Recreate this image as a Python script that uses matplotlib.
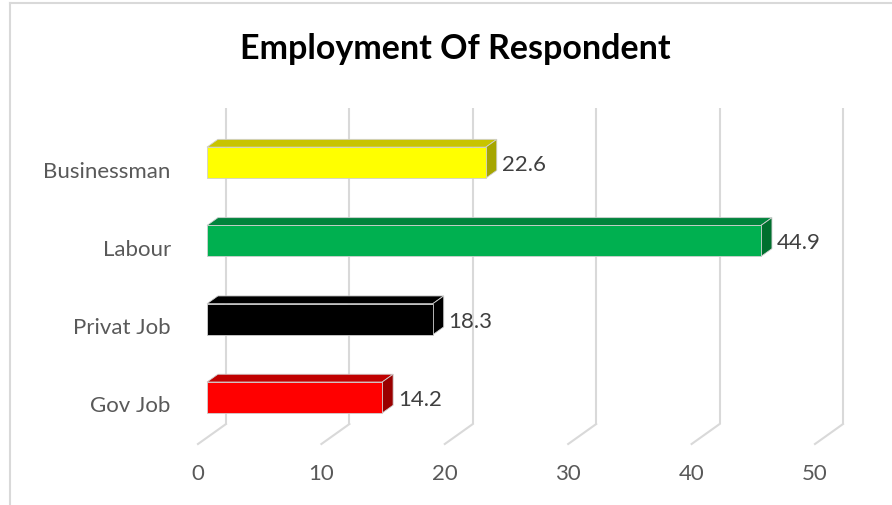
import matplotlib
matplotlib.use('Agg')
import matplotlib.pyplot as plt
from matplotlib.patches import Polygon
from matplotlib.lines import Line2D

# data
categories = ['Gov Job', 'Privat Job', 'Labour', 'Businessman']
values = [14.2, 18.3, 44.9, 22.6]
front_colors = ['#FF0000', '#000000', '#00B050', '#FFFF00']
top_colors = ['#C00000', '#000000', '#00843C', '#C8C400']
side_colors = ['#9A0000', '#000000', '#006F2E', '#A6A600']
ticks = [0, 10, 20, 30, 40, 50]

plt.rcParams['font.family'] = ['Lato', 'DejaVu Sans']

fig = plt.figure(figsize=(8.92, 5.06), dpi=100)
ax = fig.add_axes([198 / 892, 1 - 445 / 506, 617 / 892, 316 / 506])
ax.set_xlim(0, 50)
ax.set_ylim(-0.512, 3.524)
ax.axis('off')

# 3d depth offsets (data units)
DX, DY = 2.27, 0.255
z0, z1 = 0.32, 0.71
h = 0.198
ybot, ytop = -0.512, 3.524
grid_c = '#D9D9D9'

# back wall gridlines and floor lines
for t in ticks:
    ax.plot([t + DX, t + DX], [ybot + DY, ytop + DY], color=grid_c, lw=1.5,
            clip_on=False, solid_capstyle='butt', zorder=1)
    ax.plot([t, t + DX], [ybot, ybot + DY], color=grid_c, lw=1.5, clip_on=False,
            zorder=1)
    ax.text(t, ybot - 0.37, str(t), ha='center', va='center', fontsize=16,
            color='#595959')

for i, (cat, v) in enumerate(zip(categories, values)):
    c = i
    fx0, fx1 = z0 * DX, v + z0 * DX
    fy0, fy1 = c - h + z0 * DY, c + h + z0 * DY
    bx0, bx1 = z1 * DX, v + z1 * DX
    by0, by1 = c - h + z1 * DY, c + h + z1 * DY
    edge = '#D0D0D0'
    top = Polygon([(fx0, fy1), (fx1, fy1), (bx1, by1), (bx0, by1)],
                  closed=True, facecolor=top_colors[i], edgecolor=edge, lw=0.6,
                  clip_on=False, zorder=3)
    side = Polygon([(fx1, fy0), (fx1, fy1), (bx1, by1), (bx1, by0)],
                   closed=True, facecolor=side_colors[i], edgecolor=edge, lw=0.6,
                   clip_on=False, zorder=3)
    front = Polygon([(fx0, fy0), (fx1, fy0), (fx1, fy1), (fx0, fy1)],
                    closed=True, facecolor=front_colors[i], edgecolor=edge, lw=0.6,
                    clip_on=False, zorder=4)
    ax.add_patch(top)
    ax.add_patch(side)
    ax.add_patch(front)
    ax.text(bx1 + 0.4, c + z0 * DY - 0.02, f'{v}', ha='left', va='center',
            fontsize=16, color='#404040', zorder=5)
    ax.text(-2.2, c - 0.02, cat, ha='right', va='center', fontsize=16,
            color='#595959')

fig.text(455 / 892, 1 - 49 / 506, 'Employment Of Respondent', ha='center',
         va='center', fontsize=24.5, fontweight='bold', color='black')

# chart border
fig.add_artist(Line2D([9.5 / 892, 9.5 / 892], [0, 1 - 3.5 / 506], color=grid_c, lw=1.5))
fig.add_artist(Line2D([9.5 / 892, 1], [1 - 3.5 / 506, 1 - 3.5 / 506], color=grid_c, lw=1.5))

fig.savefig('out.png', dpi=100)
